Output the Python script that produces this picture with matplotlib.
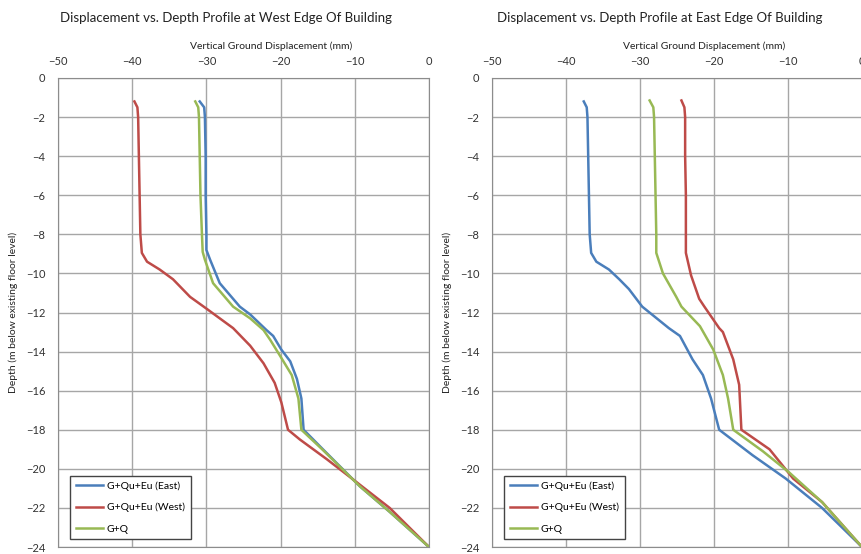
import matplotlib.pyplot as plt

plt.rcParams['font.family'] = ['Lato', 'DejaVu Sans']

# West edge of building (depth m, displacement mm)
west_east_depth = [-1.2, -1.5, -2, -4, -6, -8, -8.8, -9.3, -10.5, -11.7, -12.1, -12.9, -13.2, -13.9,
                   -14.5, -15.4, -16.4, -18.0, -19.0, -20.9, -22.2, -24.0]
west_east_disp = [-30.9, -30.3, -30.2, -30.1, -30.1, -30.0, -30.0, -29.5, -28.2, -25.5, -24.1, -21.9,
                  -21.0, -19.9, -18.7, -17.8, -17.2, -16.9, -14.3, -9.3, -5.3, 0.0]

west_west_depth = [-1.2, -1.5, -2, -4, -6, -8, -8.95, -9.4, -9.8, -10.3, -11.2, -11.8, -12.8, -13.7,
                   -14.6, -15.6, -16.6, -18.0, -18.5, -19.5, -20.7, -22.0, -24.0]
west_west_disp = [-39.7, -39.3, -39.2, -39.1, -39.0, -38.9, -38.7, -38.0, -36.3, -34.5, -32.2, -30.0,
                  -26.4, -24.1, -22.3, -20.8, -19.9, -19.0, -17.4, -13.8, -9.7, -5.3, 0.0]

west_gq_depth = [-1.2, -1.5, -2, -4, -6, -8, -8.9, -9.3, -10.5, -11.7, -12.3, -12.9, -13.4, -14.2,
                 -15.2, -16.4, -18.0, -19.0, -20.9, -22.2, -24.0]
west_gq_disp = [-31.5, -31.1, -31.0, -30.9, -30.8, -30.6, -30.5, -30.2, -29.1, -26.4, -24.1, -22.3,
                -21.4, -20.1, -18.5, -17.6, -17.2, -14.4, -9.3, -5.3, 0.0]

# East edge of building
east_east_depth = [-1.2, -1.5, -2, -4, -6, -8, -8.95, -9.4, -9.8, -10.3, -10.8, -11.7, -12.8, -13.2,
                   -14.4, -15.2, -16.4, -18.0, -19.3, -20.5, -22.0, -24.0]
east_east_disp = [-37.6, -37.2, -37.1, -37.0, -36.9, -36.8, -36.6, -35.9, -34.2, -32.8, -31.5, -29.7,
                  -26.1, -24.6, -22.9, -21.5, -20.4, -19.3, -14.8, -10.3, -5.4, 0.0]

east_west_depth = [-1.15, -1.5, -2, -4, -6, -8, -8.95, -10.1, -11.3, -11.7, -12.8, -13.0, -14.4, -15.7,
                   -18.0, -19.0, -20.5, -21.7, -24.0]
east_west_disp = [-24.4, -24.0, -23.9, -23.9, -23.8, -23.8, -23.8, -23.1, -22.0, -21.3, -19.3, -18.8,
                  -17.4, -16.6, -16.3, -12.5, -9.3, -5.4, 0.0]

east_gq_depth = [-1.15, -1.5, -2, -4, -6, -8, -8.95, -10.0, -11.2, -11.7, -12.7, -13.9, -15.2, -16.4,
                 -18.0, -19.1, -20.2, -21.7, -24.0]
east_gq_disp = [-28.7, -28.2, -28.1, -28.0, -27.9, -27.8, -27.8, -26.9, -25.1, -24.4, -21.9, -20.1,
                -18.8, -18.1, -17.4, -13.4, -9.8, -5.4, 0.0]

labels = ['G+Qu+Eu (East)', 'G+Qu+Eu (West)', 'G+Q']
colors = ['#4a7ebb', '#be4b48', '#98b954']

panels = [
    ('Displacement vs. Depth Profile at West Edge Of Building',
     [(west_east_disp, west_east_depth), (west_west_disp, west_west_depth),
      (west_gq_disp, west_gq_depth)]),
    ('Displacement vs. Depth Profile at East Edge Of Building',
     [(east_east_disp, east_east_depth), (east_west_disp, east_west_depth),
      (east_gq_disp, east_gq_depth)]),
]

fig = plt.figure(figsize=(8.61, 5.54), dpi=100)
positions = [[58/861, 7/554, 371/861, 469/554], [492/861, 7/554, 370/861, 469/554]]

for pos, (title, series) in zip(positions, panels):
    ax = fig.add_axes(pos)
    for (x, y), lab, c in zip(series, labels, colors):
        ax.plot(x, y, color=c, lw=1.8, label=lab)
    ax.set_xlim(-50, 0)
    ax.set_ylim(-24, 0)
    ax.set_xticks(range(-50, 1, 10))
    ax.set_yticks(range(-24, 1, 2))
    ax.xaxis.tick_top()
    ax.xaxis.set_label_position('top')
    ax.tick_params(length=0, labelsize=8, colors='#333333')
    ax.tick_params(axis='x', pad=8)
    ax.tick_params(axis='y', pad=9)
    ax.grid(True, color='#a6a6a6', lw=1.0)
    for s in ax.spines.values():
        s.set_color('#8c8c8c')
    ax.set_xlabel('Vertical Ground Displacement (mm)', fontsize=7.5, x=0.574, labelpad=5,
                  color='#222222')
    ax.set_ylabel('Depth (m below existing floor level)', fontsize=7.5, labelpad=6,
                  color='#222222')
    ax.set_title(title, fontsize=9.5, x=0.453, pad=40, color='#222222')
    leg = ax.legend(loc='lower left', bbox_to_anchor=(0.032, 0.016), fontsize=7.5,
                    fancybox=False, edgecolor='#444444', framealpha=1, borderaxespad=0,
                    handlelength=2.6, handletextpad=0.4, labelspacing=1.15, borderpad=0.55)
    leg.get_frame().set_linewidth(1.0)

fig.savefig('out.png', dpi=100)
